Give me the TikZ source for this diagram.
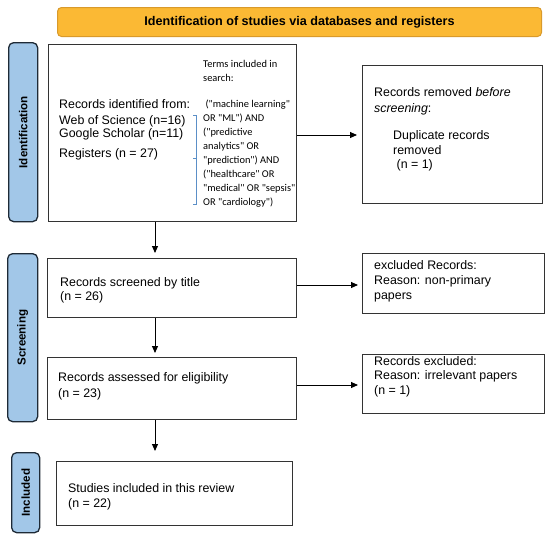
\documentclass[tikz,border=0pt]{standalone}
\usepackage{fontspec}
\setmainfont{Liberation Sans}
\newfontfamily\calibfont{Carlito}
\usetikzlibrary{arrows.meta}
\definecolor{orangefill}{HTML}{FBB934}
\definecolor{orangeline}{HTML}{D99A2B}
\definecolor{tabblue}{HTML}{A2C7E8}
\definecolor{tabline}{HTML}{1E2A36}
\definecolor{boxline}{HTML}{333333}
\definecolor{bracketblue}{HTML}{5B8FC7}
\begin{document}
\begin{tikzpicture}[x=1pt,y=-1pt,
  box/.style={draw=boxline,line width=1.3pt,fill=white,inner sep=0pt,anchor=north west},
  tab/.style={draw=tabline,fill=tabblue,line width=1.3pt,rounded corners=5pt},
  tablabel/.style={rotate=90,font=\fontsize{11.6}{13}\selectfont\bfseries},
  txt/.style={font=\fontsize{12.4}{14.5}\selectfont,anchor=base west,inner sep=0pt},
  small/.style={font=\calibfont\fontsize{10.4}{12}\selectfont,anchor=base west,inner sep=0pt},
  arr/.style={-{Triangle[length=7pt,width=6pt]},line width=0.9pt,black}]
\useasboundingbox (0,0) rectangle (550,539);

% title
\node[draw=orangeline,fill=orangefill,line width=1pt,rounded corners=4pt,
  minimum width=484pt,minimum height=29pt,inner sep=0pt,anchor=north west,
  font=\fontsize{12.6}{14}\selectfont\bfseries] (title) at (57,7)
  {Identification of studies via databases and registers};

% side tabs
\node[tab,minimum width=29pt,minimum height=179pt,inner sep=0pt,anchor=north west] (tabI) at (8,42) {};
\node[tablabel] (tabIl) at (tabI.center) {Identification};
\node[tab,minimum width=30pt,minimum height=168pt,inner sep=0pt,anchor=north west] (tabS) at (7,253) {};
\node[tablabel] (tabSl) at (tabS.center) {Screening};
\node[tab,minimum width=28pt,minimum height=80pt,inner sep=0pt,anchor=north west] (tabN) at (11,452) {};
\node[tablabel] (tabNl) at (tabN.center) {Included};

% boxes
\node[box,minimum width=248pt,minimum height=177pt] (idb) at (48,44) {};
\node[box,minimum width=180pt,minimum height=138pt] (rem) at (362,65) {};
\node[box,minimum width=249pt,minimum height=59pt] (scr) at (47,258) {};
\node[box,minimum width=182pt,minimum height=60pt] (exa) at (362,253) {};
\node[box,minimum width=249pt,minimum height=62pt] (elig) at (47,357) {};
\node[box,minimum width=182pt,minimum height=59pt] (exb) at (362,354) {};
\node[box,minimum width=236pt,minimum height=64pt] (fin) at (56,461) {};

% identification box text
\node[txt] (i1) at (59,108.5) {Records identified from:};
\node[txt] (i2) at (59,124) {Web of Science (n=16)};
\node[txt] (i3) at (59,137.5) {Google Scholar (n=11)};
\node[txt] (i4) at (59,157.5) {Registers (n = 27)};

\node[small] (s1) at (203,67) {Terms included in};
\node[small] (s2) at (203,81) {search:};
\node[small] (s3) at (203,107) {\ ("machine learning"};
\node[small] (s4) at (203,121) {OR "ML") AND};
\node[small] (s5) at (203,135) {("predictive};
\node[small] (s6) at (203,149) {analytics" OR};
\node[small] (s7) at (203,163) {"prediction") AND};
\node[small] (s8) at (203,177) {("healthcare" OR};
\node[small] (s9) at (203,191) {"medical" OR "sepsis"};
\node[small] (s10) at (203,205) {OR "cardiology")};
\draw[bracketblue,line width=0.6pt] (193,115) -- (196,115) -- (196,204) -- (193,204)
  (196,158) -- (193,158);

% removed box text
\node[txt] (r1) at (374,96.5) {Records removed \textit{before}};
\node[txt] (r2) at (374,112) {\textit{screening}:};
\node[txt] (r3) at (393,139.5) {Duplicate records};
\node[txt] (r4) at (393,154) {removed};
\node[txt] (r5) at (393,168.5) {\ (n = 1)};

% screened
\node[txt] (c1) at (60,286) {Records screened by title};
\node[txt] (c2) at (60,300) {(n = 26)};
\node[txt] (e1) at (374,269.5) {excluded Records:};
\node[txt] (e2) at (374,284.5) {Reason: non-primary};
\node[txt] (e3) at (374,299.5) {papers};

% eligibility
\node[txt] (g1) at (58,381.5) {Records assessed for eligibility};
\node[txt] (g2) at (58,397) {(n = 23)};
\node[txt] (x1) at (374,365) {Records excluded:};
\node[txt] (x2) at (374,379.5) {Reason: irrelevant papers};
\node[txt] (x3) at (374,394.5) {(n = 1)};

% included
\node[txt] (f1) at (68,492.5) {Studies included in this review};
\node[txt] (f2) at (68,507) {(n = 22)};

% connectors
\coordinate (spine) at (155,0);
\draw[arr,shorten >=5pt] (idb.east |- 0,135) -- (rem.west |- 0,135);
\draw[arr,shorten >=5pt] (spine |- idb.south) -- (spine |- scr.north);
\draw[arr,shorten >=4pt] (scr.east |- 0,285) -- (exa.west |- 0,285);
\draw[arr,shorten >=4pt] (spine |- scr.south) -- (spine |- elig.north);
\draw[arr,shorten >=4pt] (elig.east |- 0,385) -- (exb.west |- 0,385);
\draw[arr,shorten >=10pt] (spine |- elig.south) -- (spine |- fin.north);
\end{tikzpicture}
\end{document}
